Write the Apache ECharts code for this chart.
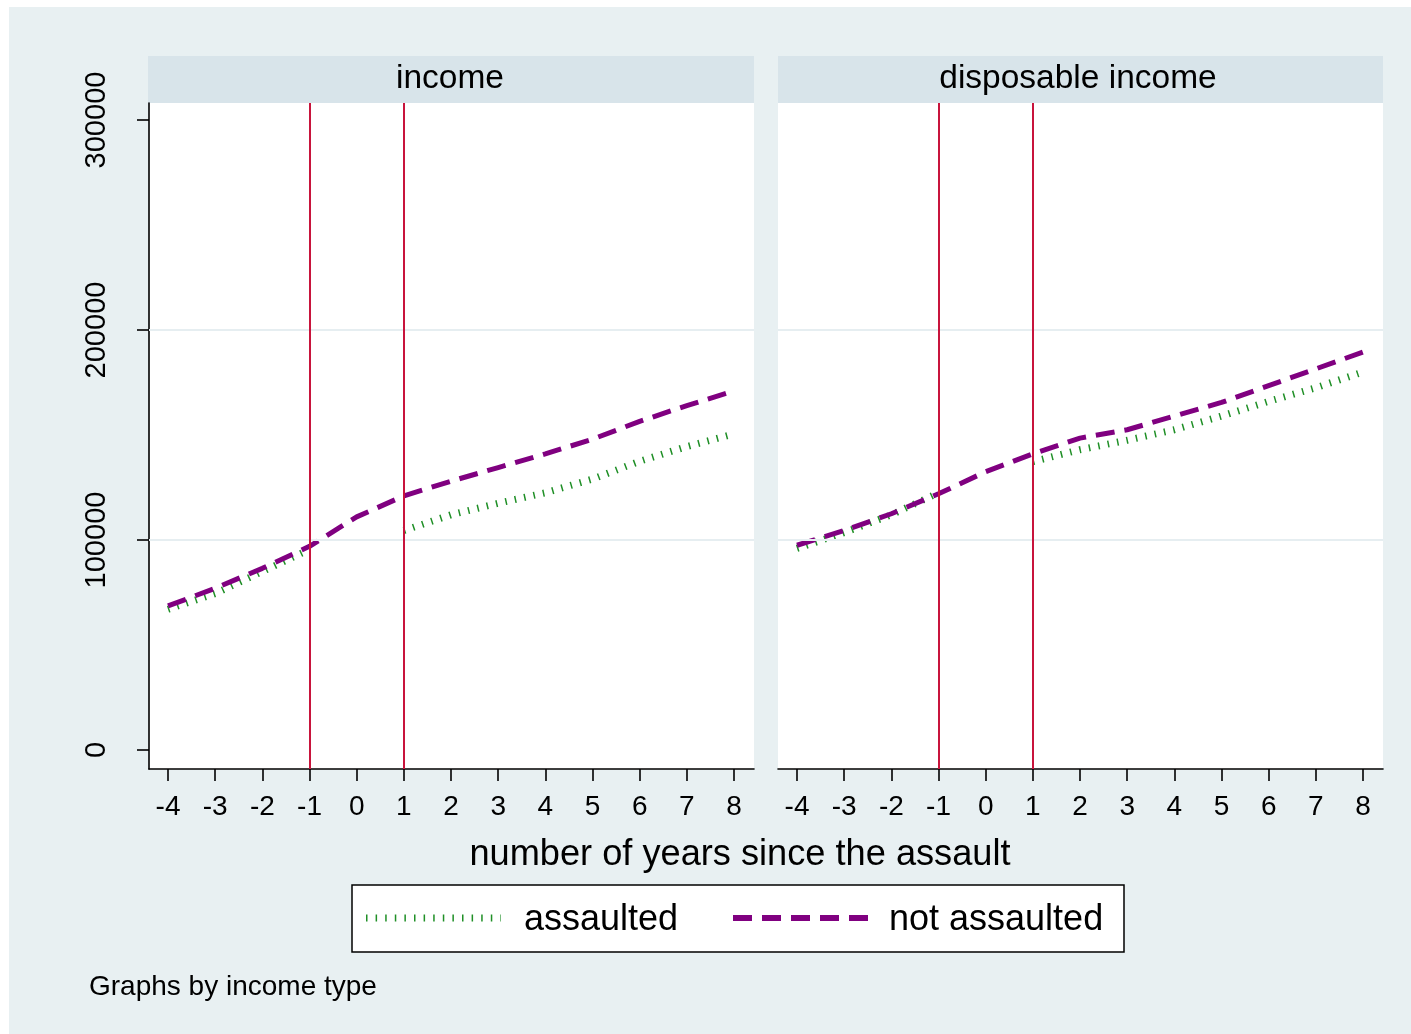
<!DOCTYPE html>
<html>
<head>
<meta charset="utf-8">
<title>Income by years since the assault</title>
<script src="https://cdn.jsdelivr.net/npm/echarts@6/dist/echarts.min.js"></script>
<style>
  html, body { margin: 0; padding: 0; background: #ffffff; }
  #chart { width: 1411px; height: 1034px; }
</style>
</head>
<body>
<div id="chart"></div>
<script>
// Years relative to the assault (x axis)
const years = [-4, -3, -2, -1, 0, 1, 2, 3, 4, 5, 6, 7, 8];
const xTicks = [-4, -3, -2, -1, 0, 1, 2, 3, 4, 5, 6, 7, 8];
const yTicks = [0, 100000, 200000, 300000];
const yGrid = [100000, 200000];
const eventYears = [-1, 1];

// Panel titles and legend entries
const panels = ['income', 'disposable income'];
const groups = ['assaulted', 'not assaulted'];

// Mean income (panel 1); no value for the assaulted group in year 0
const incomeAssaulted    = [67000, 74500, 85000, 95500, null, 104500, 112000, 117500, 122500, 129000, 137500, 144500, 150500];
const incomeNotAssaulted = [68600, 77000, 86500, 97000, 111000, 121000, 128000, 134500, 141000, 148000, 156500, 164000, 171000];

// Mean disposable income (panel 2)
const dispAssaulted    = [96000, 103500, 112000, 122500, null, 137300, 143000, 147500, 152500, 159000, 166000, 172500, 180000];
const dispNotAssaulted = [97500, 104500, 112500, 122000, 132500, 141000, 148500, 152500, 159000, 165500, 173500, 181500, 189500];

const FONT = "'Liberation Sans', Arial, Helvetica, sans-serif";
const GREEN = '#1f8f26';
const PURPLE = '#800080';
const RED = '#c8143c';
const GREEN_DASH = [1.5, 8.1];
const PURPLE_DASH = [19, 10];

const pairs = (ys) => years.map((x, i) => [x, ys[i]]);

const grids = [
  { left: 149, top: 103, width: 605, height: 666 },
  { left: 778, top: 103, width: 605, height: 666 }
];

function xAxisFor(idx) {
  return {
    type: 'value', gridIndex: idx, min: -4.403, max: 8.424,
    axisLine: { show: true, onZero: false, lineStyle: { color: '#000', width: 1.6 } },
    axisTick: { show: true, length: 12, customValues: xTicks, lineStyle: { color: '#000', width: 1.6 } },
    axisLabel: { customValues: xTicks, margin: 24, color: '#000', fontSize: 28, fontFamily: FONT },
    splitLine: { show: false }
  };
}

function yAxisFor(idx) {
  const shown = idx === 0;
  return {
    type: 'value', gridIndex: idx, min: -9048, max: 308095,
    axisLine: { show: shown, onZero: false, lineStyle: { color: '#000', width: 1.6 } },
    axisTick: { show: shown, length: 12, customValues: yTicks, lineStyle: { color: '#000', width: 1.6 } },
    axisLabel: {
      show: shown, customValues: yTicks, rotate: 90, margin: 38,
      color: '#000', fontSize: 29, fontFamily: FONT,
      formatter: (v) => String(Math.round(v))
    },
    splitLine: { show: false }
  };
}

const referenceLines = {
  silent: true, symbol: 'none', label: { show: false },
  data: [
    ...yGrid.map(v => ({ yAxis: v, lineStyle: { color: '#e6eef1', width: 2, type: 'solid' } })),
    ...eventYears.map(v => ({ xAxis: v, lineStyle: { color: RED, width: 2, type: 'solid' } }))
  ]
};

function assaultedSeries(idx, values) {
  return {
    name: groups[0], type: 'line', xAxisIndex: idx, yAxisIndex: idx,
    data: pairs(values), symbol: 'none', connectNulls: false, z: 3,
    lineStyle: { color: GREEN, width: 7, type: GREEN_DASH, cap: 'butt' },
    itemStyle: { color: GREEN },
    markLine: referenceLines
  };
}

function notAssaultedSeries(idx, values) {
  return {
    name: groups[1], type: 'line', xAxisIndex: idx, yAxisIndex: idx,
    data: pairs(values), symbol: 'none', z: 4,
    lineStyle: { color: PURPLE, width: 5, type: PURPLE_DASH, cap: 'butt' },
    itemStyle: { color: PURPLE }
  };
}

// Legend box drawn as graphics so the keys carry the same dash patterns as the lines
const legendGraphics = [
  { type: 'rect', z: 10, shape: { x: 352, y: 885, width: 772, height: 67 },
    style: { fill: '#ffffff', stroke: '#000', lineWidth: 1.5 } },
  { type: 'line', z: 11, shape: { x1: 366, y1: 918, x2: 501, y2: 918 },
    style: { stroke: GREEN, lineWidth: 7, lineDash: GREEN_DASH, lineCap: 'butt' } },
  { type: 'text', z: 11, x: 524, y: 920,
    style: { text: groups[0], fontSize: 36, fontFamily: FONT, fill: '#000', verticalAlign: 'middle' } },
  { type: 'line', z: 11, shape: { x1: 733, y1: 918, x2: 868, y2: 918 },
    style: { stroke: PURPLE, lineWidth: 6, lineDash: PURPLE_DASH, lineCap: 'butt' } },
  { type: 'text', z: 11, x: 889, y: 920,
    style: { text: groups[1], fontSize: 36, fontFamily: FONT, fill: '#000', verticalAlign: 'middle' } }
];

const chart = echarts.init(document.getElementById('chart'), null, { renderer: 'canvas' });

chart.setOption({
  animation: false,
  backgroundColor: '#ffffff',
  textStyle: { fontFamily: FONT },
  graphic: [
    { type: 'rect', z: -10, shape: { x: 9, y: 7, width: 1402, height: 1027 }, style: { fill: '#e8f0f2' } },
    { type: 'rect', z: -5, shape: { x: 148, y: 56, width: 606, height: 47 }, style: { fill: '#d8e4ea' } },
    { type: 'rect', z: -5, shape: { x: 778, y: 56, width: 605, height: 47 }, style: { fill: '#d8e4ea' } },
    ...legendGraphics
  ],
  title: [
    { text: panels[0], left: 445, top: 57, textAlign: 'center',
      textStyle: { fontSize: 33.5, fontWeight: 'normal', color: '#000', fontFamily: FONT } },
    { text: panels[1], left: 1073, top: 57, textAlign: 'center',
      textStyle: { fontSize: 33.5, fontWeight: 'normal', color: '#000', fontFamily: FONT } },
    { text: 'number of years since the assault', left: 735, top: 832, textAlign: 'center',
      textStyle: { fontSize: 36.2, fontWeight: 'normal', color: '#000', fontFamily: FONT } },
    { text: 'Graphs by income type', left: 84, top: 968,
      textStyle: { fontSize: 28, fontWeight: 'normal', color: '#000', fontFamily: FONT } }
  ],
  grid: grids.map(g => Object.assign({ show: true, backgroundColor: '#ffffff', borderWidth: 0, containLabel: false }, g)),
  xAxis: [xAxisFor(0), xAxisFor(1)],
  yAxis: [yAxisFor(0), yAxisFor(1)],
  series: [
    assaultedSeries(0, incomeAssaulted),
    notAssaultedSeries(0, incomeNotAssaulted),
    assaultedSeries(1, dispAssaulted),
    notAssaultedSeries(1, dispNotAssaulted)
  ]
});
</script>
</body>
</html>
